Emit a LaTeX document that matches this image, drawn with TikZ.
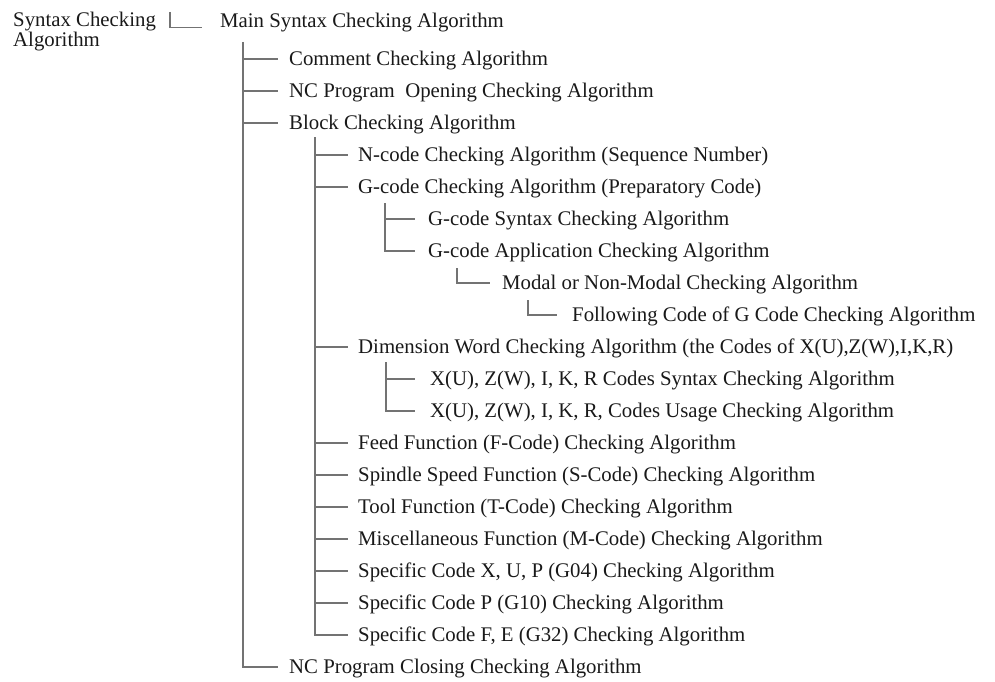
\documentclass[tikz,border=0pt]{standalone}
\usepackage{fontspec}
\setmainfont{Liberation Serif}

\tikzset{
  item/.style={anchor=west, inner xsep=0pt, inner ysep=0pt, text height=13pt, text depth=0pt,
    font=\fontsize{20.8}{20}\selectfont, text=black!90},
  branch/.style={draw=black!55, line width=1.3pt, shorten >=11pt},
}

\begin{document}
\begin{tikzpicture}[x=1pt, y=-1pt]

  \useasboundingbox (0,0) rectangle (995,682);

  % root and first level
  \node[item, anchor=north west, align=left, text height=, text depth=] (root) at (13,12)
    {Syntax Checking\\Algorithm};
  \node[item] (main) at (220,21) {Main Syntax Checking Algorithm};

  \node[item] (cmt)   at (289,59)  {Comment Checking Algorithm};
  \node[item] (open)  at (289,91)  {NC Program~ Opening Checking Algorithm};
  \node[item] (blk)   at (289,123) {Block Checking Algorithm};
  \node[item] (close) at (289,667) {NC Program Closing Checking Algorithm};

  % block checking
  \node[item] (ncode) at (358,155) {N-code Checking Algorithm (Sequence Number)};
  \node[item] (gcode) at (358,187) {G-code Checking Algorithm (Preparatory Code)};
  \node[item] (gsyn)  at (428,219) {G-code Syntax Checking Algorithm};
  \node[item] (gapp)  at (428,251) {G-code Application Checking Algorithm};
  \node[item] (modal) at (502,283) {Modal or Non-Modal Checking Algorithm};
  \node[item] (follow) at (572,315) {Following Code of G Code Checking Algorithm};
  \node[item] (dim)   at (358,347) {Dimension Word Checking Algorithm (the Codes of X(U),Z(W),I,K,R)};
  \node[item] (dsyn)  at (430,379) {X(U), Z(W), I, K, R Codes Syntax Checking Algorithm};
  \node[item] (duse)  at (430,411) {X(U), Z(W), I, K, R, Codes Usage Checking Algorithm};
  \node[item] (feed)  at (358,443) {Feed Function (F-Code) Checking Algorithm};
  \node[item] (spin)  at (358,475) {Spindle Speed Function (S-Code) Checking Algorithm};
  \node[item] (tool)  at (358,507) {Tool Function (T-Code) Checking Algorithm};
  \node[item] (misc)  at (358,539) {Miscellaneous Function (M-Code) Checking Algorithm};
  \node[item] (gfour) at (358,571) {Specific Code X, U, P (G04) Checking Algorithm};
  \node[item] (gten)  at (358,603) {Specific Code P (G10) Checking Algorithm};
  \node[item] (gtt)   at (358,635) {Specific Code F, E (G32) Checking Algorithm};

  % tree lines
  \draw[branch, shorten >=18pt] ([xshift=14pt]root.north east) |- (main.base west);

  \coordinate (v0) at (243,42);
  \draw[branch] (v0) |- (close.west);
  \foreach \n in {cmt,open,blk}{
    \draw[branch] (v0 |- \n.west) -- (\n.west);
  }

  \coordinate (v1) at (315,137);
  \draw[branch, shorten >=10pt] (v1) |- (gtt.west);
  \foreach \n in {ncode,gcode,dim,feed,spin,tool,misc,gfour,gten}{
    \draw[branch, shorten >=10pt] (v1 |- \n.west) -- (\n.west);
  }

  \coordinate (v2) at (385,203);
  \draw[branch, shorten >=13pt] (v2) |- (gapp.west);
  \draw[branch, shorten >=13pt] (v2 |- gsyn.west) -- (gsyn.west);

  \coordinate (v3) at (457,268);
  \draw[branch, shorten >=12pt] (v3) |- (modal.west);

  \coordinate (v4) at (528,300);
  \draw[branch, shorten >=15pt] (v4) |- (follow.west);

  \coordinate (v5) at (386,362);
  \draw[branch, shorten >=15pt] (v5) |- (duse.west);
  \draw[branch, shorten >=15pt] (v5 |- dsyn.west) -- (dsyn.west);

\end{tikzpicture}
\end{document}
